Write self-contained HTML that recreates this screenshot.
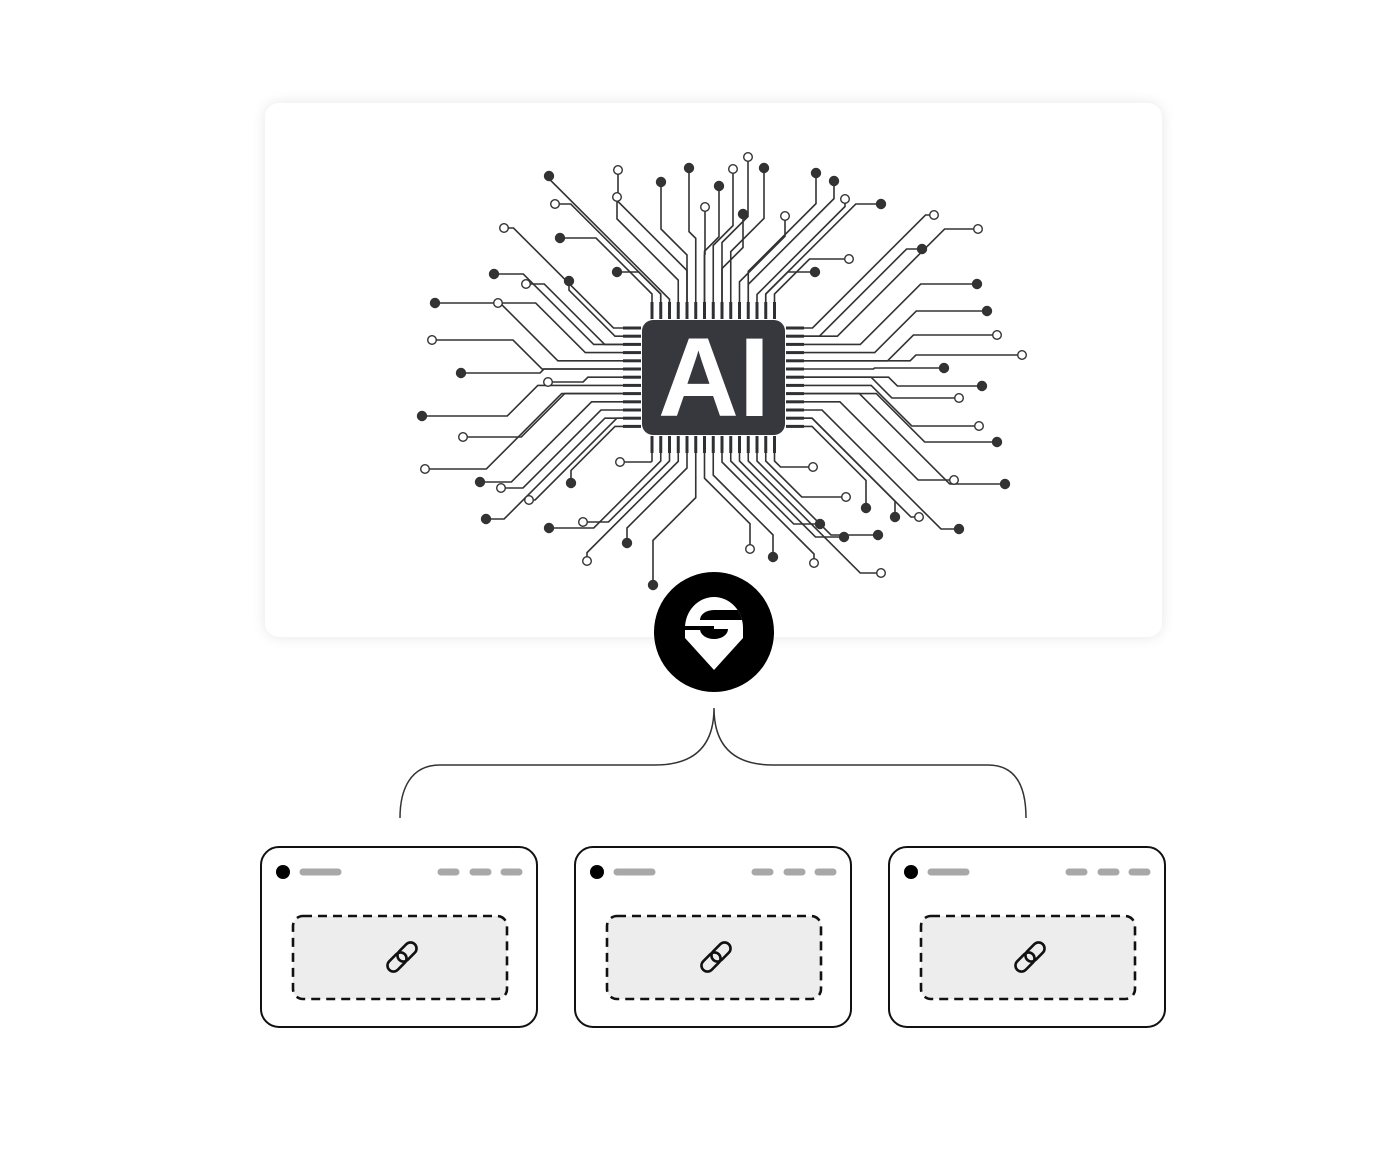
<!DOCTYPE html>
<html><head><meta charset="utf-8"><style>
html,body{margin:0;padding:0;background:#fff;}
body{width:1392px;height:1160px;position:relative;overflow:hidden;font-family:"Liberation Sans",sans-serif;}
.panel{position:absolute;left:265px;top:103px;width:897px;height:534px;background:#fff;border-radius:14px;box-shadow:0 0 14px rgba(0,0,0,0.10);}
svg{position:absolute;left:0;top:0;}
</style></head><body>
<div class="panel"></div>
<svg id="s" width="1392" height="1160" viewBox="0 0 1392 1160">
<defs><clipPath id="pinc"><path d="M685 628 A29 31 0 0 1 743 628 L743 638 L714 670 L685 638 Z"/></clipPath></defs>
<g id="tr" stroke="#333" stroke-width="1.6" fill="none"></g>
<g id="dots" stroke="#333" stroke-width="1.4"></g>
<g id="pins" fill="#2e3034"></g>
<rect x="642" y="320" width="143" height="115" rx="11" fill="#36383d"/>
<text x="714" y="416" text-anchor="middle" font-family="Liberation Sans,sans-serif" font-weight="bold" font-size="112" fill="#fff">AI</text>
<circle cx="714" cy="632" r="60" fill="#000"/>
<path d="M685 628 A29 31 0 0 1 743 628 L743 638 L714 670 L685 638 Z" fill="#fff"/>
<g clip-path="url(#pinc)" fill="#000">
<path d="M700 620 A14 10 0 0 1 728 620 Z"/>
<rect x="714" y="610" width="32" height="10"/>
<rect x="682" y="626" width="32" height="4"/>
<path d="M700 629 A14 10 0 0 0 728 629 Z"/>
</g>
<path d="M400 818 C400 790 410 765 440 765 L655 765 C700 765 714 740 714 708 C714 740 728 765 773 765 L988 765 C1018 765 1026 790 1026 818" fill="none" stroke="#333" stroke-width="1.5"/>
<g id="cards"></g>
</svg>
<script>
var NS="http://www.w3.org/2000/svg";
function el(p,t,a){var e=document.createElementNS(NS,t);for(var k in a)e.setAttribute(k,a[k]);p.appendChild(e);return e;}
var pins=document.getElementById('pins');
var top_=[],bot=[],lef=[],rig=[];
for(var i=0;i<15;i++){var x=652+i*8.75;top_.push(x);bot.push(x);el(pins,'rect',{x:x-1.5,y:302,width:3,height:17});el(pins,'rect',{x:x-1.5,y:436,width:3,height:17});}
for(var i=0;i<13;i++){var y=328+i*8.2;lef.push(y);rig.push(y);el(pins,'rect',{x:623,y:y-1.5,width:18,height:3});el(pins,'rect',{x:786,y:y-1.5,width:18,height:3});}
var D=[[618,170,0],[549,176,1],[661,182,1],[689,168,1],[719,186,1],[748,157,0],[733,169,0],[764,168,1],[816,173,1],[834,181,1],[555,204,0],[617,197,0],[705,207,0],[743,214,1],[785,216,0],[845,199,0],[881,204,1],[934,215,0],[978,229,0],[504,228,0],[560,238,1],[922,249,1],[849,259,0],[617,272,1],[815,272,1],[494,274,1],[526,284,0],[569,281,1],[977,284,1],[435,303,1],[498,303,0],[987,311,1],[997,335,0],[432,340,0],[1022,355,0],[461,373,1],[944,368,1],[548,382,0],[982,386,1],[959,398,0],[422,416,1],[979,426,0],[463,437,0],[997,442,1],[620,462,0],[813,467,0],[425,469,0],[480,482,1],[954,480,0],[1005,484,1],[501,488,0],[571,483,1],[529,500,0],[846,497,0],[866,508,1],[895,517,1],[919,517,0],[486,519,1],[549,528,1],[583,522,0],[820,524,1],[878,535,1],[959,529,1],[627,543,1],[750,549,0],[844,537,1],[587,561,0],[653,585,1],[773,557,1],[814,563,0],[881,573,0]];
var cx=714,cy=378;
var S={t:[],b:[],l:[],r:[]};
D.forEach(function(d){var dx=d[0]-cx,dy=d[1]-cy;var s;
 if(Math.abs(dy)*1.15>Math.abs(dx)) s=dy<0?'t':'b'; else s=dx<0?'l':'r'; S[s].push(d);});
var tr=document.getElementById('tr'),dots=document.getElementById('dots');
function route(s,pp,d){var pts=[];var x,y;
 if(s=='t'||s=='b'){x=pp;y=s=='t'?302:453;var sg=s=='t'?-1:1;var dist=Math.abs(d[1]-y),h=Math.abs(d[0]-x);
  pts.push([x,y]);
  if(h<dist){var a=(dist-h)*0.5;y+=sg*a;pts.push([x,y]);y+=sg*h;x=d[0];pts.push([x,y]);pts.push([x,d[1]]);}
  else{y+=sg*8;pts.push([x,y]);var hs=d[0]>x?1:-1;var r=dist-8;x+=hs*r;y=d[1];pts.push([x,y]);pts.push([d[0],d[1]]);}
 }else{y=pp;x=s=='l'?623:804;var sg=s=='l'?-1:1;var dist=Math.abs(d[0]-x),h=Math.abs(d[1]-y);
  pts.push([x,y]);
  if(h<dist){var a=(dist-h)*0.5;x+=sg*a;pts.push([x,y]);x+=sg*h;y=d[1];pts.push([x,y]);pts.push([d[0],y]);}
  else{x+=sg*8;pts.push([x,y]);var vs=d[1]>y?1:-1;var r=dist-8;y+=vs*r;x=d[0];pts.push([x,y]);pts.push([d[0],d[1]]);}
 }
 el(tr,'polyline',{points:pts.map(function(p){return p.join(',')}).join(' ')});
}
function doSide(s,arr,pinsArr){
 if(s=='t'||s=='b')arr.sort(function(a,b){return Math.atan2(a[0]-cx,Math.abs(a[1]-cy))-Math.atan2(b[0]-cx,Math.abs(b[1]-cy));});
 else arr.sort(function(a,b){return Math.atan2(a[1]-cy,Math.abs(a[0]-cx))-Math.atan2(b[1]-cy,Math.abs(b[0]-cx));});
 var n=pinsArr.length;
 arr.forEach(function(d,i){var idx=arr.length>1?Math.round(i*(n-1)/(arr.length-1)):Math.floor(n/2);route(s,pinsArr[idx],d);});
}
doSide('t',S.t,top_);doSide('b',S.b,bot);doSide('l',S.l,lef);doSide('r',S.r,rig);
D.forEach(function(d){el(dots,'circle',{cx:d[0],cy:d[1],r:d[2]?4.5:4.3,fill:d[2]?'#333':'#fff'});});
var cards=document.getElementById('cards');
[261,575,889].forEach(function(x){
 el(cards,'rect',{x:x,y:847,width:276,height:180,rx:18,fill:'#fff',stroke:'#111','stroke-width':2});
 el(cards,'circle',{cx:x+22,cy:872,r:7,fill:'#000'});
 el(cards,'line',{x1:x+42,y1:872,x2:x+77,y2:872,stroke:'#a8a8a8','stroke-width':7,'stroke-linecap':'round'});
 [180,212,243].forEach(function(o){el(cards,'line',{x1:x+o,y1:872,x2:x+o+15,y2:872,stroke:'#a8a8a8','stroke-width':7,'stroke-linecap':'round'});});
 el(cards,'rect',{x:x+32,y:916,width:214,height:83,rx:10,fill:'#ededed',stroke:'#111','stroke-width':2.6,'stroke-dasharray':'9 6'});
 var lx=x+141,ly=957;
 el(cards,'rect',{x:lx+5-6,y:ly-5-11,width:12,height:22,rx:6,fill:'none',stroke:'#111','stroke-width':2.6,transform:'rotate(45 '+(lx+5)+' '+(ly-5)+')'});
 el(cards,'rect',{x:lx-5-6,y:ly+5-11,width:12,height:22,rx:6,fill:'none',stroke:'#111','stroke-width':2.6,transform:'rotate(45 '+(lx-5)+' '+(ly+5)+')'});
});
</script>
</body></html>
